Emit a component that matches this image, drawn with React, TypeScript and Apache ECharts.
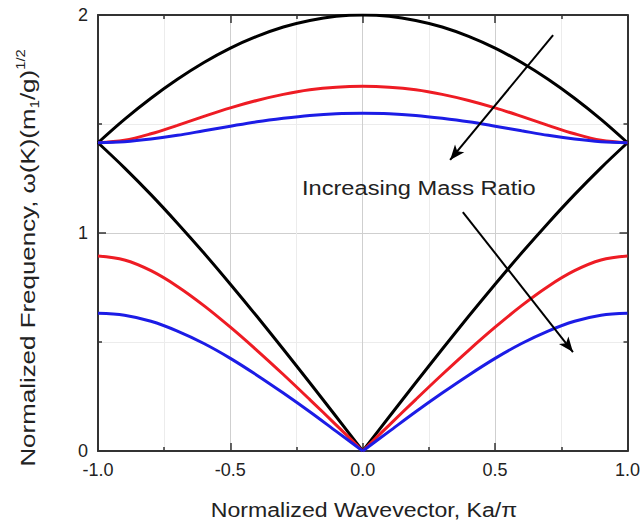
import React, { useEffect, useRef } from "react";
import * as echarts from "echarts";

// Normalized wavevector Ka/π
const xs = [-1.0, -0.9, -0.8, -0.7, -0.6, -0.5, -0.4, -0.3, -0.2, -0.1, 0.0, 0.1, 0.2, 0.3, 0.4, 0.5, 0.6, 0.7, 0.8, 0.9, 1.0];

// Mass ratio 1 (black)
const blackOptical = [1.414, 1.521, 1.618, 1.705, 1.782, 1.848, 1.902, 1.945, 1.975, 1.994, 2.0, 1.994, 1.975, 1.945, 1.902, 1.848, 1.782, 1.705, 1.618, 1.521, 1.414];
const blackAcoustic = [1.414, 1.299, 1.176, 1.045, 0.908, 0.765, 0.618, 0.467, 0.313, 0.157, 0.0, 0.157, 0.313, 0.467, 0.618, 0.765, 0.908, 1.045, 1.176, 1.299, 1.414];
// Larger mass ratio (red)
const redOptical = [1.414, 1.425, 1.455, 1.494, 1.535, 1.574, 1.608, 1.636, 1.657, 1.669, 1.673, 1.669, 1.657, 1.636, 1.608, 1.574, 1.535, 1.494, 1.455, 1.425, 1.414];
const redAcoustic = [0.894, 0.876, 0.827, 0.755, 0.667, 0.568, 0.462, 0.351, 0.236, 0.119, 0.0, 0.119, 0.236, 0.351, 0.462, 0.568, 0.667, 0.755, 0.827, 0.876, 0.894];
// Largest mass ratio (blue)
const blueOptical = [1.414, 1.419, 1.431, 1.448, 1.469, 1.49, 1.51, 1.526, 1.539, 1.547, 1.549, 1.547, 1.539, 1.526, 1.51, 1.49, 1.469, 1.448, 1.431, 1.419, 1.414];
const blueAcoustic = [0.632, 0.623, 0.595, 0.55, 0.493, 0.425, 0.348, 0.266, 0.18, 0.09, 0.0, 0.09, 0.18, 0.266, 0.348, 0.425, 0.493, 0.55, 0.595, 0.623, 0.632];

// Annotation arrows (data coordinates: [start, end])
const arrowUpper = [[0.719, 1.908], [0.33, 1.335]];
const arrowLower = [[0.378, 1.096], [0.794, 0.454]];

const FONT = "'Liberation Sans', Arial, Helvetica, sans-serif";
const BLACK = "#000000";
const RED = "#ee1c24";
const BLUE = "#1c1ce6";

const pairs = (vals: number[], from = 0, to = xs.length) =>
  xs.slice(from, to).map((x, i) => [x, vals[from + i]]);

export default function App() {
  const ref = useRef<HTMLDivElement>(null);
  useEffect(() => {
    if (!ref.current) return;
    const chart = echarts.init(ref.current, null, { renderer: "svg" });
    const axisLine = { show: true, onZero: false, lineStyle: { color: "#333", width: 2 } };
    const axisTick = { show: true, inside: true, length: 8, lineStyle: { color: "#333", width: 1.5 } };
    const minorTick = { show: true, splitNumber: 2, length: 4, lineStyle: { color: "#333", width: 1.5 } };
    const splitLine = { show: true, lineStyle: { color: "#cfcfcf", width: 1 } };
    const minorSplitLine = { show: true, lineStyle: { color: "#ececec", width: 1 } };
    const mid = Math.floor(xs.length / 2);
    const lineSeries = (data: number[][], color: string) => ({
      type: "line",
      data,
      showSymbol: false,
      symbol: "none",
      smooth: 0.35,
      lineStyle: { color, width: 3 },
      z: 3,
    });
    const series: any[] = [
      lineSeries(pairs(blackOptical), BLACK),
      lineSeries(pairs(blackAcoustic, 0, mid + 1), BLACK),
      lineSeries(pairs(blackAcoustic, mid), BLACK),
      lineSeries(pairs(redOptical), RED),
      lineSeries(pairs(redAcoustic, 0, mid + 1), RED),
      lineSeries(pairs(redAcoustic, mid), RED),
      lineSeries(pairs(blueOptical), BLUE),
      lineSeries(pairs(blueAcoustic, 0, mid + 1), BLUE),
      lineSeries(pairs(blueAcoustic, mid), BLUE),
    ];
    series[0].markLine = {
      silent: true,
      symbol: ["none", "arrow"],
      symbolSize: [9, 15],
      label: { show: false },
      lineStyle: { color: "#000", width: 2, type: "solid" },
      data: [
        [{ coord: arrowUpper[0] }, { coord: arrowUpper[1] }],
        [{ coord: arrowLower[0] }, { coord: arrowLower[1] }],
      ],
    };
    chart.setOption({
      animation: false,
      backgroundColor: "#ffffff",
      grid: { left: 98, right: 11, top: 15, bottom: 75, containLabel: false },
      xAxis: [
        {
          type: "value",
          min: -1,
          max: 1,
          interval: 0.5,
          position: "bottom",
          axisLine,
          axisTick,
          minorTick,
          splitLine,
          minorSplitLine,
          axisLabel: {
            formatter: (v: number) => v.toFixed(1),
            fontSize: 18,
            color: "#222",
            margin: 10,
            fontFamily: FONT,
          },
        },
        {
          type: "value",
          min: -1,
          max: 1,
          interval: 0.5,
          position: "top",
          axisLine,
          axisTick,
          minorTick,
          splitLine: { show: false },
          axisLabel: { show: false },
        },
      ],
      yAxis: [
        {
          type: "value",
          min: 0,
          max: 2,
          interval: 1,
          position: "left",
          axisLine,
          axisTick,
          minorTick,
          splitLine,
          minorSplitLine,
          axisLabel: { fontSize: 18, color: "#222", margin: 10, fontFamily: FONT },
        },
        {
          type: "value",
          min: 0,
          max: 2,
          interval: 1,
          position: "right",
          axisLine,
          axisTick,
          minorTick,
          splitLine: { show: false },
          axisLabel: { show: false },
        },
      ],
      series,
      graphic: [
        {
          type: "text",
          x: 364,
          y: 510,
          scaleX: 1.1,
          style: {
            text: "Normalized Wavevector, Ka/π",
            fontSize: 21,
            fontFamily: FONT,
            fill: "#222",
            align: "center",
            verticalAlign: "middle",
          },
        },
        {
          type: "text",
          x: 28,
          y: 258,
          rotation: Math.PI / 2,
          scaleX: 1.235,
          style: {
            text: "{a|Normalized Frequency, ω(K)(m}{sub|1}{a|/g)}{sup|1/2}",
            fill: "#222",
            align: "center",
            verticalAlign: "middle",
            rich: {
              a: { fontSize: 21, fontFamily: FONT, fill: "#222", lineHeight: 26 },
              sub: { fontSize: 12, fontFamily: FONT, fill: "#222", lineHeight: 14, verticalAlign: "bottom" },
              sup: { fontSize: 12, fontFamily: FONT, fill: "#222", lineHeight: 14, verticalAlign: "top" },
            },
          },
        },
        {
          type: "text",
          x: 302,
          y: 188,
          scaleX: 1.125,
          style: {
            text: "Increasing Mass Ratio",
            fontSize: 21,
            fontFamily: FONT,
            fill: "#222",
            align: "left",
            verticalAlign: "middle",
          },
          z: 10,
        },
      ],
    });
    return () => chart.dispose();
  }, []);
  return (
    <div
      ref={ref}
      style={{ position: "fixed", left: 0, top: 0, width: 643, height: 526, background: "#fff" }}
    />
  );
}
